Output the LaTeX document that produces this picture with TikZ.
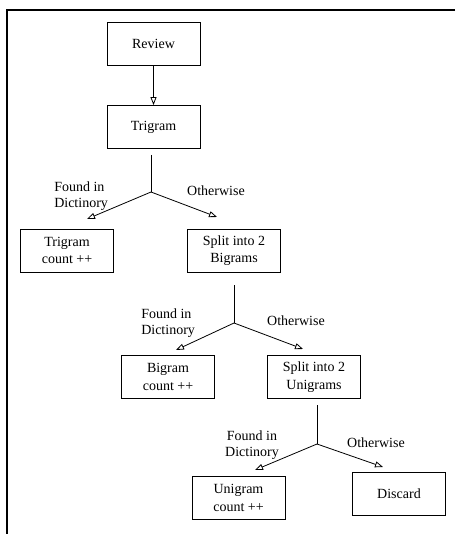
\documentclass[tikz,border=0pt]{standalone}
\usepackage{fontspec}
\setmainfont{Liberation Serif}
\usetikzlibrary{arrows.meta}

\begin{document}
\begin{tikzpicture}[x=0.75pt,y=-0.75pt,
  box/.style={draw,line width=0.6pt,minimum width=69.75pt,minimum height=32.25pt,align=center,font=\fontsize{10.5}{13}\selectfont},
  lbl/.style={inner sep=0pt,font=\fontsize{10.5}{12.5}\selectfont},
  >={Triangle[open,length=6pt,width=4.5pt]}]
  \useasboundingbox (0,0) rectangle (455,534);
  % frame
  \draw[line width=0.8pt] (455,10) -- (7,10) -- (7,534);
  % boxes
  \node[box] (review) at (153.5,43.5) {Review};
  \node[box] (trigram) at (153.5,127) {Trigram};
  \node[box] (tricount) at (67,250.5) {Trigram\\count ++};
  \node[box] (splitbi) at (234,250.5) {Split into 2\\Bigrams};
  \node[box] (bicount) at (168,377) {Bigram\\count ++};
  \node[box] (splituni) at (314,377) {Split into 2\\Unigrams};
  \node[box] (unicount) at (238.5,498) {Unigram\\count ++};
  \node[box] (discard) at (399,493.5) {Discard};
  % branch points
  \coordinate (s1) at (151,155);
  \coordinate (j1) at (151,192);
  \coordinate (l1) at (87,219);
  \coordinate (r1) at (217,217);
  \coordinate (s2) at (234,285);
  \coordinate (j2) at (234,323);
  \coordinate (l2) at (176,350);
  \coordinate (r2) at (303,349);
  \coordinate (s3) at (317,405);
  \coordinate (j3) at (317,444);
  \coordinate (l3) at (255,470);
  \coordinate (r3) at (383,467);
  % labels
  \node[lbl,align=left,anchor=west] (found1) at (54,196) {Found in\\Dictinory};
  \node[lbl] (other1) at (216,191) {Otherwise};
  \node[lbl,align=left,anchor=west] (found2) at (141,323) {Found in\\Dictinory};
  \node[lbl] (other2) at (296,321) {Otherwise};
  \node[lbl,align=center] (found3) at (252,445) {Found in\\Dictinory};
  \node[lbl] (other3) at (376,443) {Otherwise};
  % connectors
  \draw[->,line width=0.6pt] (review) -- (trigram);
  \draw[line width=0.6pt] (s1) -- (j1);
  \draw[->,line width=0.6pt] (j1) -- (l1);
  \draw[->,line width=0.6pt] (j1) -- (r1);
  \draw[line width=0.6pt] (s2) -- (j2);
  \draw[->,line width=0.6pt] (j2) -- (l2);
  \draw[->,line width=0.6pt] (j2) -- (r2);
  \draw[line width=0.6pt] (s3) -- (j3);
  \draw[->,line width=0.6pt] (j3) -- (l3);
  \draw[->,line width=0.6pt] (j3) -- (r3);
\end{tikzpicture}
\end{document}
